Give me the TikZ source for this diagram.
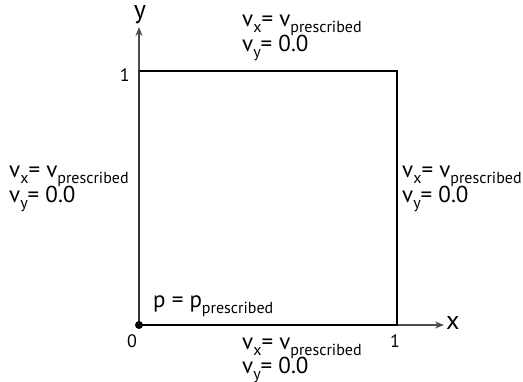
\documentclass[tikz,border=0pt]{standalone}
\usepackage{fontspec}
\setmainfont{PT Sans}
\usetikzlibrary{arrows.meta}
\newcommand{\bcsub}[2]{#1\raisebox{-0.22em}{\fontsize{16}{16}\selectfont #2}}

\begin{document}
\begin{tikzpicture}[x=1pt,y=-1pt, every node/.style={inner sep=0pt,font=\fontsize{23}{25}\selectfont}, bctext/.style={anchor=base west}, tick/.style={font=\fontsize{18}{20}\selectfont}, axlabel/.style={font=\fontsize{26}{28}\selectfont}, axis/.style={-{Stealth[length=9pt,width=7pt]},line width=1.1pt,draw=black!70}, edge/.style={line width=1.7pt,draw=black}]
\useasboundingbox (0,0) rectangle (523,382);
% corners of the unit square
\coordinate (o) at (139,325);
\coordinate (xr) at (397,325);
\coordinate (tr) at (397,71);
\coordinate (yt) at (139,71);
\coordinate (xend) at (444,325);
\coordinate (yend) at (139,27);
% axes and square
\draw[axis] (o) -- (xend);
\draw[axis] (o) -- (yend);
\draw[edge] (o) -- (xr) -- (tr) -- (yt);
\draw[line width=1.4pt,draw=black!80] (yt) -- (o);
\fill (o) circle (4);
% axis labels and ticks
\node[axlabel,anchor=west] (xlab) at (446,323) {x};
\node[axlabel,anchor=south] (ylab) at (140,24) {y};
\node[tick,anchor=north] (t0) at (132,334) {0};
\node[tick,anchor=north] (t1x) at (395,334) {1};
\node[tick,anchor=east] (t1y) at (130,75) {1};
% boundary conditions
\node[bctext] (topvx) at (242,27) {\bcsub{v}{x}= \bcsub{v}{prescribed}};
\node[bctext] (topvy) at (242,52) {\bcsub{v}{y}= 0.0};
\node[bctext] (leftvx) at (9,178) {\bcsub{v}{x}= \bcsub{v}{prescribed}};
\node[bctext] (leftvy) at (9,203) {\bcsub{v}{y}= 0.0};
\node[bctext] (rightvx) at (402,178) {\bcsub{v}{x}= \bcsub{v}{prescribed}};
\node[bctext] (rightvy) at (402,203) {\bcsub{v}{y}= 0.0};
\node[bctext] (botvx) at (242,350) {\bcsub{v}{x}= \bcsub{v}{prescribed}};
\node[bctext] (botvy) at (242,374) {\bcsub{v}{y}= 0.0};
\node[bctext] (pfix) at (153,308) {p = \bcsub{p}{prescribed}};
\end{tikzpicture}
\end{document}
